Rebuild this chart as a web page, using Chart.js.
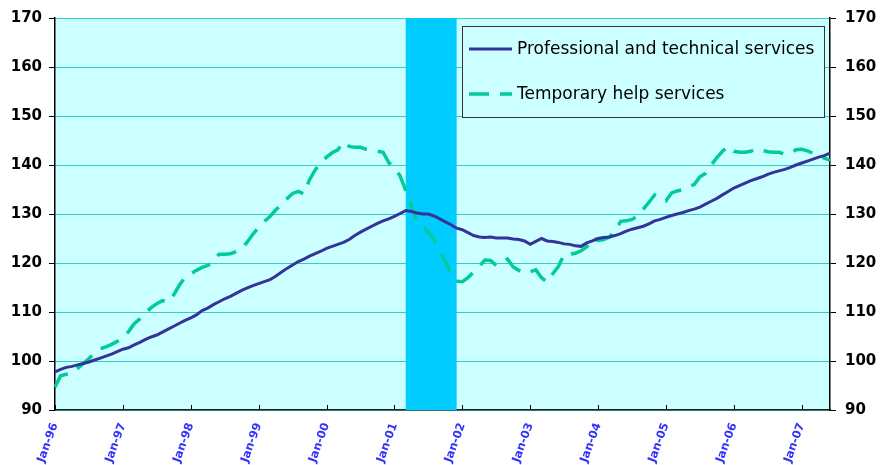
<!DOCTYPE html>
<html>
<head>
<meta charset="utf-8">
<script src="https://cdn.jsdelivr.net/npm/chart.js@4.4.1/dist/chart.umd.min.js"></script>
<style>
  html, body { margin: 0; padding: 0; background: #fff; }
  #wrap { width: 883px; height: 465px; position: relative; }
</style>
</head>
<body>
<div id="wrap"><canvas id="chart"></canvas></div>
<script>
// categorias: meses de Jan-96 a Jun-07
const monthNames = ['Jan','Feb','Mar','Apr','May','Jun','Jul','Aug','Sep','Oct','Nov','Dec'];
const yearLabels = ['96','97','98','99','00','01','02','03','04','05','06','07'];
const months = [];
yearLabels.forEach(y => monthNames.forEach(m => months.push(m + '-' + y)));
months.length = 138;

// indice 1996 = 100 aprox
const professional = [
  97.8, 98.3, 98.7, 98.9, 99.2, 99.5, 99.8, 100.2, 100.6, 101.0, 101.4, 101.9,
  102.4, 102.7, 103.3, 103.8, 104.4, 104.9, 105.3, 105.9, 106.5, 107.1, 107.7, 108.3,
  108.8, 109.4, 110.3, 110.8, 111.5, 112.1, 112.7, 113.2, 113.8, 114.4, 114.9, 115.4,
  115.8, 116.2, 116.6, 117.3, 118.1, 118.9, 119.6, 120.3, 120.8, 121.4, 121.9, 122.4,
  123.0, 123.4, 123.8, 124.2, 124.8, 125.6, 126.3, 126.9, 127.5, 128.1, 128.6, 129.0,
  129.5, 130.1, 130.7, 130.5, 130.2, 130.0, 130.0, 129.6, 129.0, 128.4, 127.8, 127.1,
  126.8, 126.2, 125.6, 125.3, 125.2, 125.3, 125.1, 125.1, 125.1, 124.9, 124.8, 124.5,
  123.8, 124.4, 125.0, 124.5, 124.4, 124.2, 123.9, 123.8, 123.5, 123.4, 124.1, 124.5,
  125.0, 125.2, 125.3, 125.6, 126.0, 126.5, 126.9, 127.2, 127.5, 128.0, 128.6, 128.9,
  129.3, 129.7, 130.0, 130.3, 130.7, 131.0, 131.4, 132.0, 132.6, 133.2, 133.9, 134.6,
  135.3, 135.8, 136.3, 136.8, 137.2, 137.6, 138.1, 138.5, 138.8, 139.1, 139.5, 140.0,
  140.4, 140.8, 141.2, 141.6, 141.9, 142.4
];

const temporary = [
  94.7, 97.0, 97.3, 97.5, 98.5, 99.5, 100.5, 101.6, 102.5, 102.9, 103.4, 104.0,
  104.7, 106.0, 107.6, 108.6, 109.8, 110.9, 111.7, 112.3, 112.0, 113.5, 115.5, 117.1,
  117.8, 118.5, 119.1, 119.5, 120.3, 121.8, 121.8, 121.9, 122.3, 122.9, 124.3, 125.9,
  127.3, 128.5, 129.5, 130.8, 131.9, 133.1, 134.2, 134.6, 134.1, 137.0, 139.0, 140.5,
  141.6, 142.5, 143.1, 144.7, 143.8, 143.6, 143.6, 143.2, 143.0, 142.8, 142.6, 140.5,
  139.5, 137.8, 134.8, 131.5, 128.5, 127.6, 126.2, 124.8, 122.6, 120.3, 118.0, 116.3,
  116.2, 117.0, 118.2, 119.3, 120.6, 120.5, 119.5, 120.0, 120.8, 119.2, 118.5, 117.9,
  118.2, 118.6, 117.0, 116.1, 117.8, 119.3, 121.8, 121.8, 122.0, 122.5, 123.3, 125.2,
  124.6, 124.8, 125.3, 126.5, 128.5, 128.6, 128.9, 129.6, 131.0, 132.4, 133.9, 133.3,
  132.7, 134.3, 134.7, 135.0, 135.6, 136.0, 137.6, 138.3, 140.0, 141.5, 142.8, 143.8,
  142.8, 142.6, 142.6, 142.8, 143.3, 143.0, 142.7, 142.6, 142.6, 142.2, 142.4, 143.1,
  143.2, 142.9, 142.4, 141.8, 141.4, 141.0
];

const seriesNames = ['Professional and technical services', 'Temporary help services'];
const recession = ['Mar-01', 'Dec-01'];
const yTicks = [90, 100, 110, 120, 130, 140, 150, 160, 170];

// fondo, banda de recesion, marcas del eje x y leyenda
const decorPlugin = {
  id: 'decor',
  beforeDraw(chart) {
    const a = chart.chartArea, c = chart.ctx;
    c.save();
    c.fillStyle = '#CCFFFF';
    c.fillRect(a.left, a.top, a.right - a.left, a.bottom - a.top);
    c.restore();
  },
  beforeDatasetsDraw(chart) {
    const a = chart.chartArea, c = chart.ctx, x = chart.scales.x;
    const x0 = x.getPixelForValue(months.indexOf(recession[0]));
    const x1 = x.getPixelForValue(months.indexOf(recession[1]));
    c.save();
    c.fillStyle = '#00CCFF';
    c.fillRect(x0, a.top, x1 - x0, a.bottom - a.top);
    c.restore();
  },
  afterDatasetsDraw(chart) {
    const a = chart.chartArea, c = chart.ctx, x = chart.scales.x;
    c.save();
    // marcas de enero hacia dentro
    c.strokeStyle = '#000';
    c.lineWidth = 1;
    months.forEach((m, i) => {
      if (m.startsWith('Jan')) {
        const px = Math.round(x.getPixelForValue(i)) + 0.5;
        c.beginPath();
        c.moveTo(px, a.bottom - 5);
        c.lineTo(px, a.bottom);
        c.stroke();
      }
    });
    // leyenda
    const bx = 462.5, by = 26.5, bw = 362, bh = 91;
    c.fillStyle = '#CCFFFF';
    c.fillRect(bx, by, bw, bh);
    c.strokeStyle = '#333333';
    c.lineWidth = 1;
    c.strokeRect(bx, by, bw, bh);
    c.font = '17px "DejaVu Sans", sans-serif';
    c.fillStyle = '#000';
    c.textBaseline = 'middle';
    const rows = [49, 94];
    chart.data.datasets.forEach((ds, i) => {
      c.strokeStyle = ds.borderColor;
      c.lineWidth = ds.borderWidth;
      c.setLineDash(ds.borderDash || []);
      c.beginPath();
      c.moveTo(469, rows[i]);
      c.lineTo(512, rows[i]);
      c.stroke();
      c.setLineDash([]);
      c.fillText(ds.label, 517, rows[i] + 1);
    });
    c.restore();
  }
};

new Chart(document.getElementById('chart').getContext('2d'), {
  type: 'line',
  data: {
    labels: months,
    datasets: [{
      label: seriesNames[0],
      data: professional,
      borderColor: '#333399',
      borderWidth: 3,
      pointRadius: 0,
      tension: 0,
      fill: false
    }, {
      label: seriesNames[1],
      data: temporary,
      borderColor: '#00CC99',
      borderWidth: 3.5,
      borderDash: [20, 11],
      pointRadius: 0,
      tension: 0,
      fill: false
    }]
  },
  options: {
    responsive: true,
    maintainAspectRatio: false,
    animation: false,
    layout: { padding: { top: 16, left: 0, right: 0, bottom: 0 } },
    plugins: {
      legend: { display: false },
      tooltip: { enabled: false }
    },
    scales: {
      x: {
        type: 'category',
        offset: false,
        afterFit: s => { s.height = 55; },
        grid: { display: false, drawTicks: false },
        border: { display: true, color: '#222', width: 1.5 },
        ticks: {
          autoSkip: false,
          minRotation: 70,
          maxRotation: 70,
          padding: 11,
          color: '#3333FF',
          font: { family: 'DejaVu Sans', size: 11.5, weight: 'bold' },
          callback: function(v, i) {
            const m = months[i];
            return m.startsWith('Jan') ? m : '';
          }
        }
      },
      y: {
        position: 'left',
        min: 90,
        max: 170,
        afterFit: s => { s.width = 55; },
        afterBuildTicks: s => { s.ticks = yTicks.map(v => ({ value: v })); },
        grid: { color: '#33CCCC', lineWidth: 1, tickLength: 6, tickColor: '#000' },
        border: { display: true, color: '#000', width: 1.5 },
        ticks: {
          padding: 7,
          color: '#000',
          font: { family: 'DejaVu Sans', size: 15, weight: 'bold' }
        }
      },
      y2: {
        position: 'right',
        min: 90,
        max: 170,
        afterFit: s => { s.width = 53; },
        afterBuildTicks: s => { s.ticks = yTicks.map(v => ({ value: v })); },
        grid: { drawOnChartArea: false, tickLength: 6, tickColor: '#000' },
        border: { display: true, color: '#000', width: 1.5 },
        ticks: {
          padding: 9,
          color: '#000',
          font: { family: 'DejaVu Sans', size: 15, weight: 'bold' }
        }
      }
    }
  },
  plugins: [decorPlugin]
});
</script>
</body>
</html>
